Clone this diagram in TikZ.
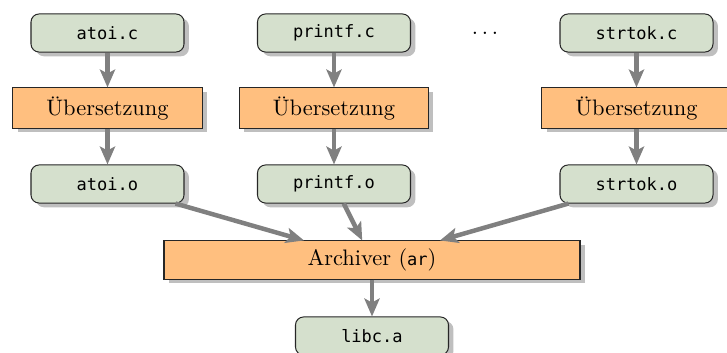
\documentclass[tikz,border=0pt]{standalone}
\usepackage{fontspec}
\newfontfamily\codefont{DejaVu Sans Mono}[Scale=0.76]
\usetikzlibrary{shadows,arrows.meta}
\definecolor{filegreen}{HTML}{D5E0CD}
\definecolor{steporange}{HTML}{FFBF7F}
\definecolor{flowgray}{HTML}{808080}
\begin{document}
\begin{tikzpicture}[x=0.4464pt,y=-0.4464pt,
  box/.style={draw=black!85, line width=0.45pt,
    drop shadow={shadow xshift=2.2pt,shadow yshift=-1.9pt,fill=black!25,opacity=1},
    inner sep=0pt},
  filebox/.style={box, fill=filegreen, rounded corners=3.6pt,
    minimum width=68.3pt, minimum height=17pt, font=\codefont},
  toolbox/.style={box, fill=steporange, minimum width=84.4pt, minimum height=17.9pt},
  flow/.style={draw=flowgray, line width=2pt,
    -{Stealth[length=8pt,width=6.8pt,inset=1.8pt]}}
]
\clip (0,0) rectangle (727,353);

% source files, compilers and object files
\node[filebox] (atoic) at (107.5,33) {atoi.c};
\node[toolbox] (comp1) at (107.5,108) {Übersetzung};
\node[filebox] (atoio) at (107.5,184) {atoi.o};

\node[filebox] (printfc) at (334,33) {printf.c};
\node[toolbox] (comp2) at (334,108) {Übersetzung};
\node[filebox] (printfo) at (334,184) {printf.o};

\node[inner sep=0pt] (dots) at (485,33) {$\ldots$};

\node[filebox] (strtokc) at (636.5,33) {strtok.c};
\node[toolbox] (comp3) at (636.5,108) {Übersetzung};
\node[filebox] (strtoko) at (636.5,184) {strtok.o};

% archiver and resulting library
\node[toolbox, minimum width=185.7pt, minimum height=17pt] (arch) at (372,260) {Archiver ({\codefont ar})};
\node[filebox] (libc) at (372,336) {libc.a};

% data flow
\draw[flow] (atoic) -- (comp1);
\draw[flow] (comp1) -- (atoio);
\draw[flow] (printfc) -- (comp2);
\draw[flow] (comp2) -- (printfo);
\draw[flow] (strtokc) -- (comp3);
\draw[flow] (comp3) -- (strtoko);
\draw[flow] (atoio) -- (arch);
\draw[flow] (printfo) -- (arch);
\draw[flow] (strtoko) -- (arch);
\draw[flow] (arch) -- (libc);
\end{tikzpicture}
\end{document}
